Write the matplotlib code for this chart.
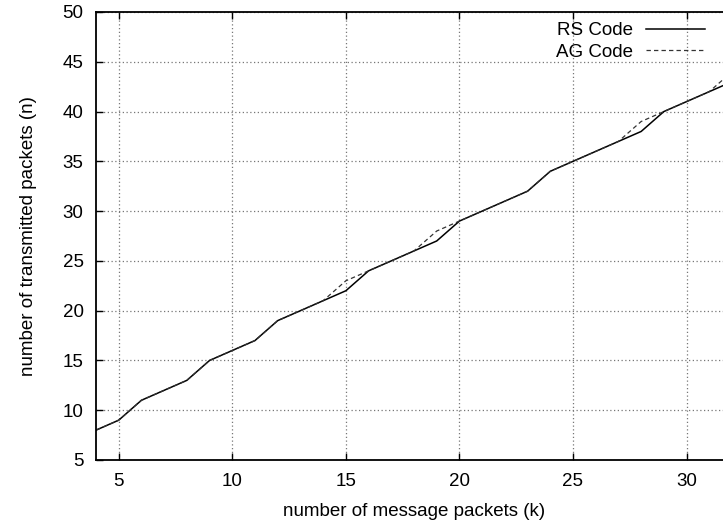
import matplotlib
matplotlib.use("Agg")
import matplotlib.pyplot as plt

# message packets k and transmitted packets n for each code
k_values = list(range(4, 33))
rs_code = [8, 9, 11, 12, 13, 15, 16, 17, 19, 20, 21, 22, 24, 25, 26, 27, 29,
           30, 31, 32, 34, 35, 36, 37, 38, 40, 41, 42, 43]
ag_code = [8, 9, 11, 12, 13, 15, 16, 17, 19, 20, 21, 23, 24, 25, 26, 28, 29,
           30, 31, 32, 34, 35, 36, 37, 39, 40, 41, 42, 44]

x_ticks = [5, 10, 15, 20, 25, 30]
y_ticks = [5, 10, 15, 20, 25, 30, 35, 40, 45, 50]

plt.rcParams['font.family'] = ['Liberation Sans', 'DejaVu Sans']
plt.rcParams['font.size'] = 13.5

fig = plt.figure(figsize=(7.23, 5.28), dpi=100)
# axes run a bit past the right edge of the figure
ax = fig.add_axes([96 / 723, 1 - 460 / 528, 636 / 723, 448 / 528])

ax.plot(k_values, rs_code, color='black', lw=1.1, label='RS Code')
ax.plot(k_values, ag_code, color='#333333', lw=0.9, dashes=(3.5, 2.5),
        label='AG Code')

ax.set_xlim(4, 32)
ax.set_ylim(5, 50)
ax.set_xticks(x_ticks)
ax.set_yticks(y_ticks)
ax.tick_params(direction='in', length=5, width=1, top=True, right=True,
               pad=9, colors='black')
ax.grid(True, color='#777777', linestyle=(0, (1, 2)), linewidth=0.9)

for side in ax.spines.values():
    side.set_linewidth(1.3)

ax.set_xlabel('number of message packets (k)', labelpad=10)
ax.set_ylabel('number of transmitted packets (n)', labelpad=18)

ax.legend(loc='upper right', bbox_to_anchor=(0.976, 1.005), frameon=False,
          markerfirst=False, handlelength=3.1, handletextpad=0.7,
          labelspacing=0.25, borderaxespad=0.25)

fig.savefig('out.png', dpi=100)
